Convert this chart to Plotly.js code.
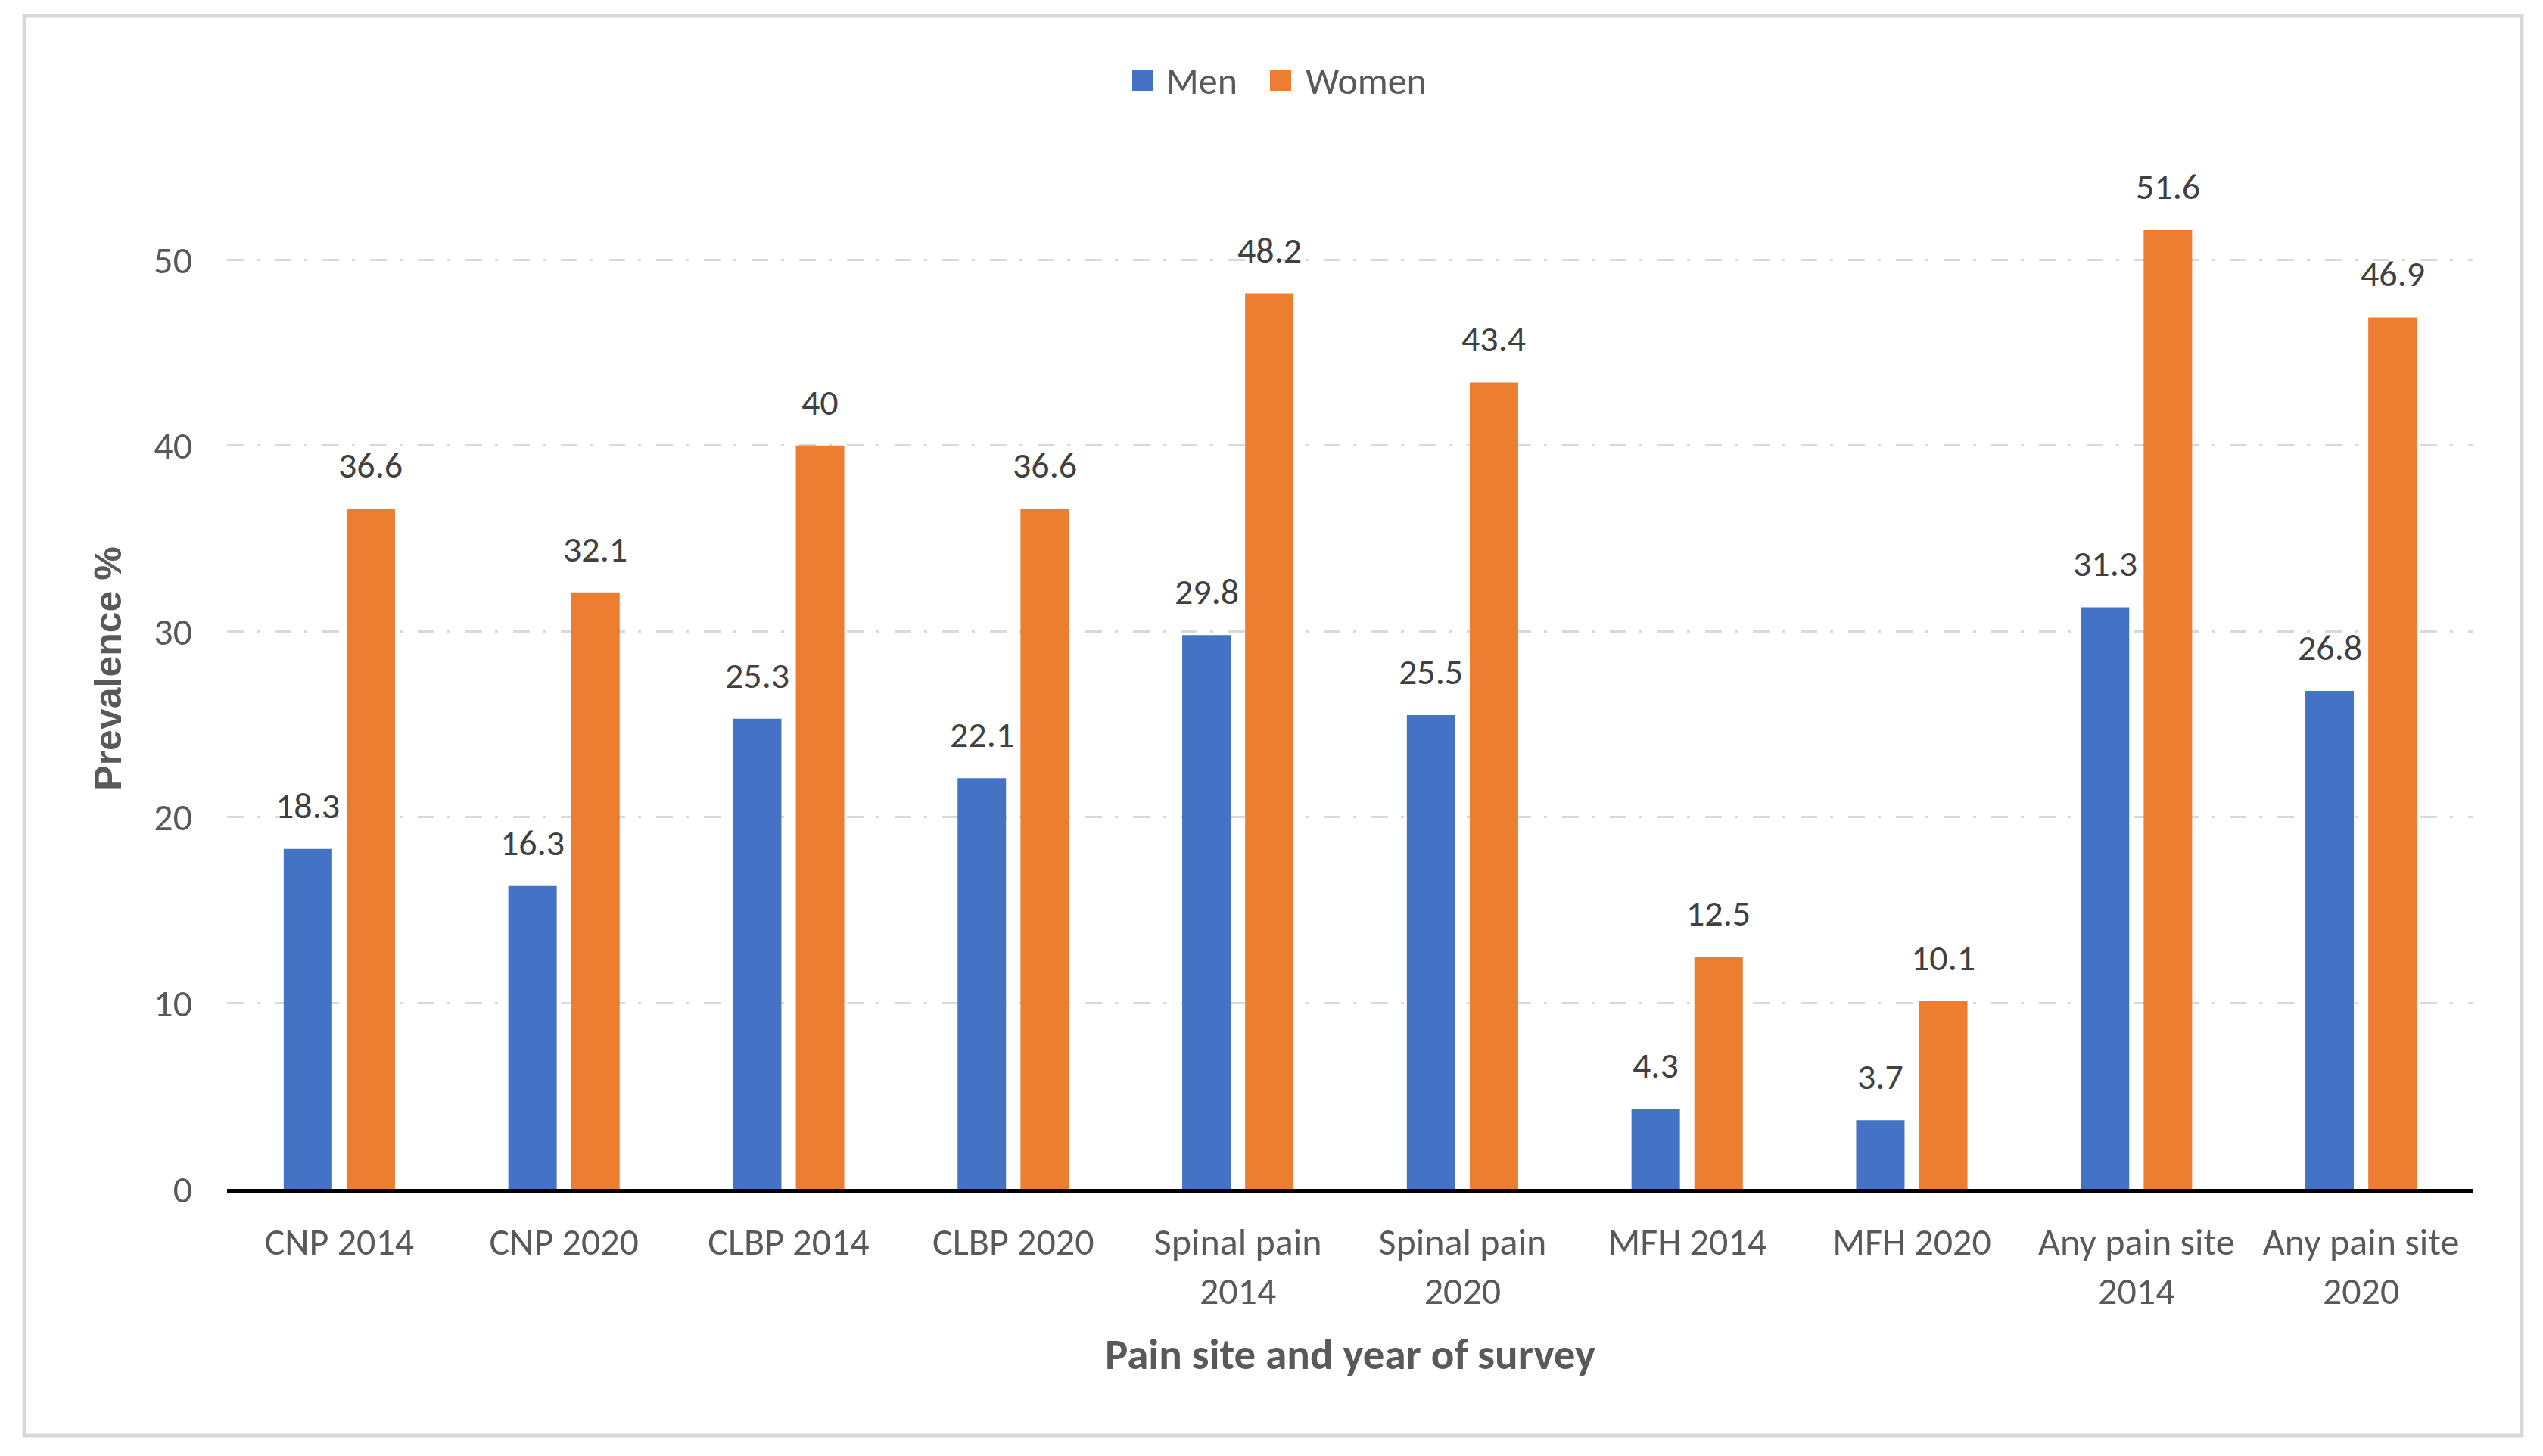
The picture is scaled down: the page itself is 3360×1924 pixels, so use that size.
<!DOCTYPE html>
<html>
<head>
<meta charset="utf-8">
<script src="https://cdn.plot.ly/plotly-3.0.1.min.js"></script>
<style>html,body{margin:0;padding:0;background:#fff;}#chart{width:3360px;height:1924px;}</style>
</head>
<body>
<div id="chart"></div>
<script>
const categories = ["CNP 2014","CNP 2020","CLBP 2014","CLBP 2020","Spinal pain<br>2014","Spinal pain<br>2020","MFH 2014","MFH 2020","Any pain site<br>2014","Any pain site<br>2020"];
const men = [18.3,16.3,25.3,22.1,29.8,25.5,4.3,3.7,31.3,26.8];
const women = [36.6,32.1,40,36.6,48.2,43.4,12.5,10.1,51.6,46.9];
const seriesNames = ["Men","Women"];
const yTicks = [0,10,20,30,40,50];

const W = 3360, H = 1924;
const L = 300, R = 3268, T = 196, B = 1571;
const pw = R - L, ph = B - T;
const px = v => (v - L) / pw;
const py = v => (B - v) / ph;

const FONT = "Carlito, 'Liberation Sans Narrow', 'Open Sans', sans-serif";
const blue = "#4472C4", orange = "#ED7D31";

const traces = [
  {type:"bar", name:seriesNames[0], x:categories, y:men, marker:{color:blue}, showlegend:false, hoverinfo:"y"},
  {type:"bar", name:seriesNames[1], x:categories, y:women, marker:{color:orange}, showlegend:false, hoverinfo:"y"}
];

const annotations = [];
const slot = pw / categories.length * (1 - 0.44) / 2;
[men, women].forEach((arr, s) => {
  arr.forEach((v, i) => {
    annotations.push({x:categories[i], y:v, xref:"x", yref:"y", text:String(v), showarrow:false,
      xshift:(s === 0 ? -1 : 1) * slot / 2, yanchor:"bottom", yshift:26,
      font:{family:FONT, size:48, color:"#404040"}});
  });
});

// custom legend
const legendItems = [
  {name:seriesNames[0], color:blue, sx:1496, tx:1539},
  {name:seriesNames[1], color:orange, sx:1678, tx:1723}
];
const shapes = [];
legendItems.forEach(it => {
  shapes.push({type:"rect", xref:"paper", yref:"paper", x0:px(it.sx), x1:px(it.sx+28), y0:py(120), y1:py(92),
    fillcolor:it.color, line:{width:0}});
  annotations.push({xref:"paper", yref:"paper", x:px(it.tx), y:py(106), xanchor:"left", yanchor:"middle",
    text:it.name, showarrow:false, font:{family:FONT, size:50, color:"#595959"}});
});
// outer border
shapes.push({type:"rect", xref:"paper", yref:"paper", x0:px(32), x1:px(3332), y0:py(1897), y1:py(21),
  line:{color:"#D9D9D9", width:5}, fillcolor:"rgba(0,0,0,0)", layer:"below"});

const layout = {
  width:W, height:H,
  margin:{l:L, r:W-R, t:T, b:H-B, pad:0},
  paper_bgcolor:"#fff", plot_bgcolor:"#fff",
  barmode:"group", bargap:0.44, bargroupgap:0.23,
  showlegend:false,
  xaxis:{
    type:"category", showgrid:false, showline:true, linecolor:"#000", linewidth:5,
    ticks:"", tickfont:{family:FONT, size:50, color:"#595959"}, ticklabelstandoff:22,
    title:{text:"<b>Pain site and year of survey</b>", font:{family:FONT, size:57, color:"#595959"}, standoff:36},
    automargin:false, fixedrange:true
  },
  yaxis:{
    range:[0,56], tickvals:yTicks, showline:false, zeroline:false,
    showgrid:true, gridcolor:"#D9D9D9", gridwidth:3, griddash:"22px,17px,4px,20px",
    ticks:"", tickfont:{family:FONT, size:50, color:"#595959"}, ticklabelstandoff:45,
    title:{text:"<b>Prevalence %</b>", font:{family:"'Liberation Sans', Arial, sans-serif", size:50, color:"#595959"}, standoff:26},
    automargin:false, fixedrange:true
  },
  annotations:annotations,
  shapes:shapes
};

Plotly.newPlot("chart", traces, layout, {displayModeBar:false, staticPlot:true});
</script>
</body>
</html>
